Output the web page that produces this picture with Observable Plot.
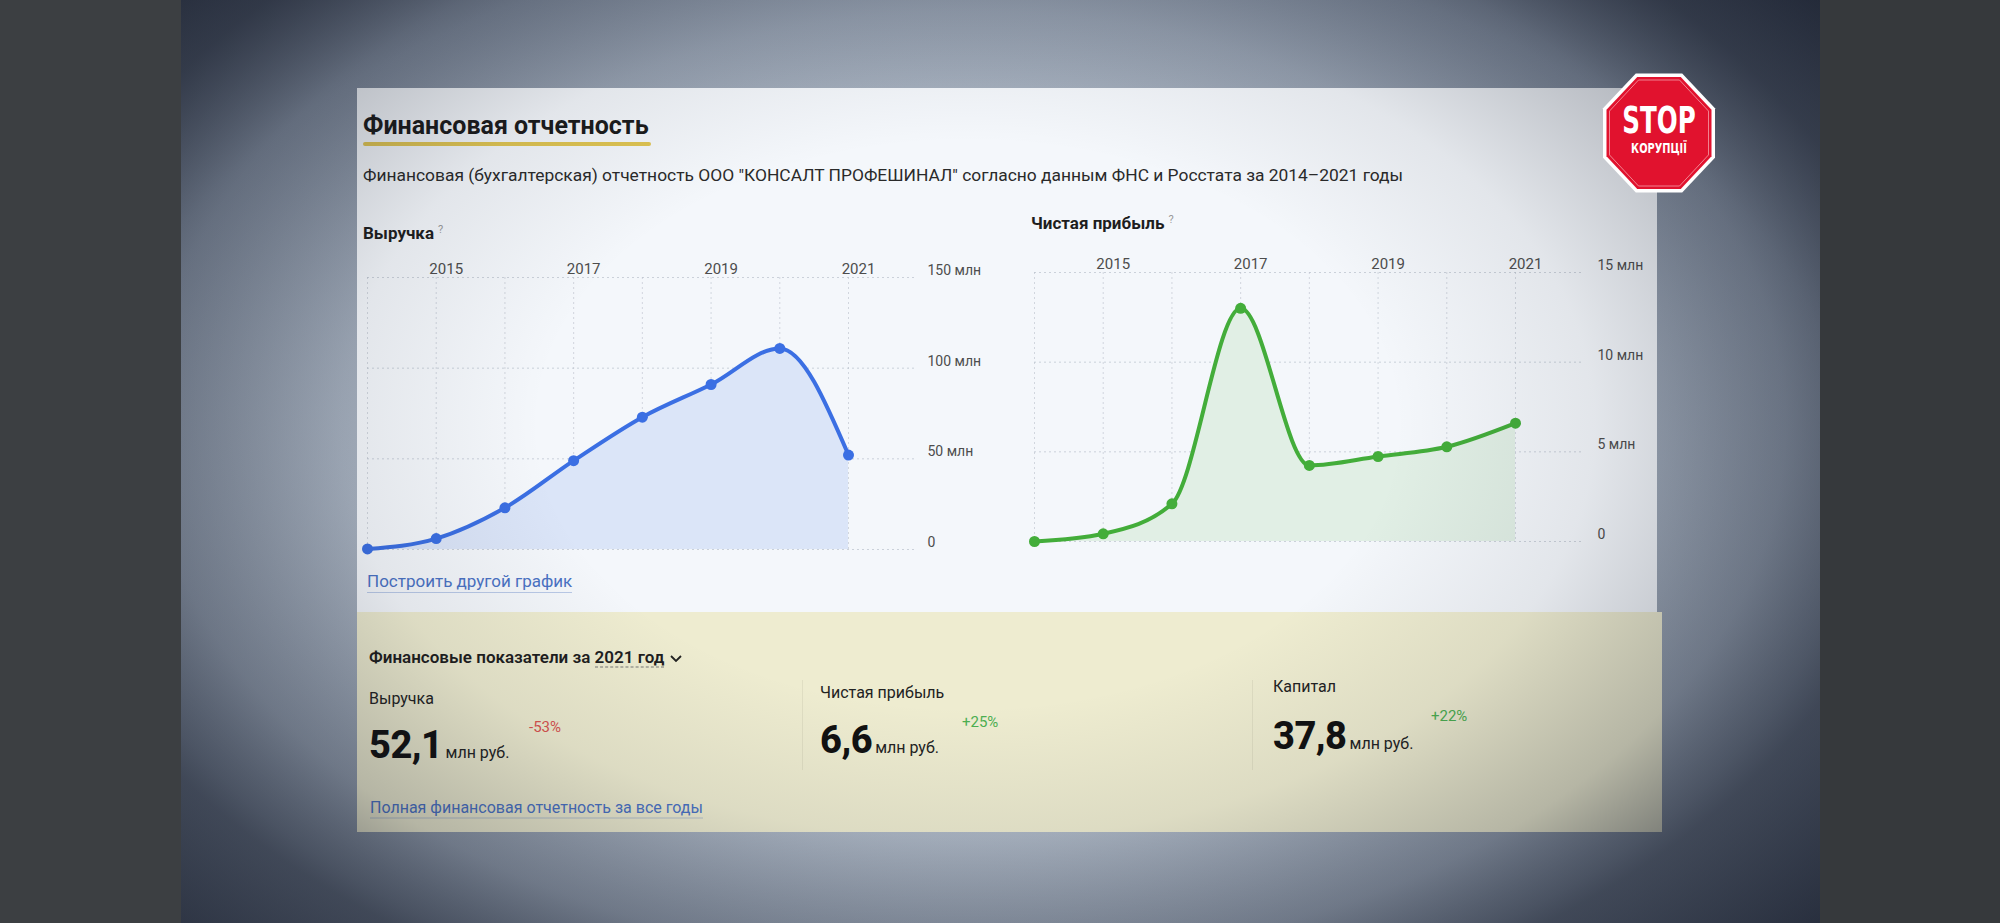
<!DOCTYPE html>
<html><head><meta charset="utf-8">
<script src="https://cdn.jsdelivr.net/npm/d3@7"></script>
<script src="https://cdn.jsdelivr.net/npm/@observablehq/plot@0.6"></script>
<style>
html,body{margin:0;padding:0;}
body{width:2000px;height:923px;overflow:hidden;position:relative;background:#3c3f42;font-family:Roboto,"Noto Sans",sans-serif;color:#222;}
#stripR{position:absolute;left:1820px;top:0;width:180px;height:923px;background:#36393c;}
#screen{position:absolute;left:181px;top:0;width:1639px;height:923px;
  background:radial-gradient(ellipse 72% 80% at 48% 52%, #cfd7e2 0%, #b3bdca 45%, #7e899a 75%, #2e3545 100%);}
#card{position:absolute;left:357px;top:88px;width:1300px;height:524px;background:#f4f7fb;}
#panel{position:absolute;left:357px;top:612px;width:1305px;height:220px;background:#eeecd0;}
.sep{position:absolute;top:680px;width:1px;height:90px;background:rgba(0,0,0,0.06);}
.t{position:absolute;white-space:nowrap;transform:translateY(-50%);line-height:1;}
#title{left:363px;top:125px;font-size:25px;font-weight:700;color:#1b1b1b;}
#uline{position:absolute;left:363px;top:142px;width:288px;height:4px;background:#e0c552;border-radius:2px;}
#sub{left:363px;top:176px;font-size:17.4px;color:#2a2a2a;}
.clabel{font-size:17px;font-weight:700;color:#1e1e1e;}
.q{font-size:11px;color:#999;vertical-align:super;font-weight:400;margin-left:4px;}
.link{font-size:17px;color:#4a72c4;border-bottom:1px solid rgba(74,114,196,0.35);padding-bottom:2px;}
.plabel{font-size:16px;color:#222;}
.big{font-size:38px;font-weight:800;color:#111;letter-spacing:-0.5px;}
.unit{font-size:16px;color:#222;font-weight:400;letter-spacing:0;margin-left:3px;}
.chg{font-size:15px;}
#chartL{position:absolute;left:357px;top:236px;}
#chartR{position:absolute;left:1020px;top:230px;}
#logo{position:absolute;left:1602px;top:73px;overflow:visible;}
#vig{position:absolute;left:181px;top:0;width:1639px;height:923px;pointer-events:none;
  background:radial-gradient(ellipse 58% 68% at 48% 46%, rgba(20,26,40,0) 0%, rgba(20,26,40,0) 45%, rgba(20,26,40,0.08) 66%, rgba(20,26,40,0.26) 86%, rgba(20,26,40,0.55) 100%);}
</style>
</head>
<body>
<div id="stripR"></div>
<div id="screen"></div>
<div id="card"></div>
<div id="panel"></div>
<div class="sep" style="left:802px"></div>
<div class="sep" style="left:1252px"></div>

<div id="title" class="t">Финансовая отчетность</div>
<div id="uline"></div>
<div id="sub" class="t">Финансовая (бухгалтерская) отчетность ООО "КОНСАЛТ ПРОФЕШИНАЛ" согласно данным ФНС и Росстата за 2014–2021 годы</div>

<div class="t clabel" id="labL" style="left:363px;top:233px;"></div>
<div class="t clabel" id="labR" style="left:1031px;top:223px;"></div>
<div id="chartL"></div>
<div id="chartR"></div>
<div class="t link" style="left:367px;top:583px;">Построить другой график</div>

<div class="t" id="panelTitle" style="left:369px;top:657px;font-size:17px;font-weight:600;color:#1e1e1e;"></div>
<div id="summary"></div>
<div class="t link" style="left:370px;top:809px;font-size:16px;">Полная финансовая отчетность за все годы</div>

<div id="vig"></div>
<svg id="logo" width="114" height="120" viewBox="0 0 114 120"></svg>

<script>
// ---- data ----
const years = [2014, 2015, 2016, 2017, 2018, 2019, 2020, 2021];
const revenue = [0.3, 6, 23, 49, 73, 91, 110.9, 52.1];      // млн руб.
const profit  = [0, 0.43, 2.1, 13.0, 4.24, 4.74, 5.28, 6.6]; // млн руб.
const yearTicks = [2015, 2017, 2019, 2021];
const revenueTicks = [0, 50, 100, 150];
const profitTicks = [0, 5, 10, 15];
const chartTitles = ["Выручка", "Чистая прибыль"];
const summaryYear = 2021;
const summaryLabels = ["Выручка", "Чистая прибыль", "Капитал"];
const summaryValues = ["52,1", "6,6", "37,8"];
const summaryChanges = ["-53%", "+25%", "+22%"];

// ---- texts ----
document.getElementById("labL").innerHTML = chartTitles[0] + '<span class="q">?</span>';
document.getElementById("labR").innerHTML = chartTitles[1] + '<span class="q">?</span>';
document.getElementById("panelTitle").innerHTML =
  'Финансовые показатели за <span style="border-bottom:1px dashed #777;">' + summaryYear + ' год</span>' +
  '<svg width="12" height="8" style="margin-left:6px;vertical-align:middle"><polyline points="1,1.5 6,6.5 11,1.5" fill="none" stroke="#222" stroke-width="1.8"/></svg>';

const colX = [369, 820, 1273];
const labY = [699, 693, 687];
const valY = [745, 740, 736];
const chgX = [529, 962, 1431];
const chgY = [727, 722, 716];
const sum = document.getElementById("summary");
summaryLabels.forEach((l, i) => {
  const a = document.createElement("div");
  a.className = "t plabel"; a.style.left = colX[i] + "px"; a.style.top = labY[i] + "px"; a.textContent = l;
  const b = document.createElement("div");
  b.className = "t big"; b.style.left = colX[i] + "px"; b.style.top = valY[i] + "px";
  b.innerHTML = summaryValues[i] + '<span class="unit">млн руб.</span>';
  const c = document.createElement("div");
  c.className = "t chg"; c.style.left = chgX[i] + "px"; c.style.top = chgY[i] + "px";
  c.style.color = summaryChanges[i].startsWith("-") ? "#d9534f" : "#4caf50";
  c.textContent = summaryChanges[i];
  sum.append(a, b, c);
});

// ---- charts ----
function chart({values, color, fill, yDomain, yTicks, marginLeft, marginRight, marginTop, marginBottom, labelPad}) {
  const data = years.map((y, i) => ({year: y, value: values[i]}));
  const W = 640, H = 330;
  return Plot.plot({
    width: W, height: H, marginLeft, marginRight, marginTop, marginBottom,
    style: {background: "transparent", fontFamily: "Roboto, 'Noto Sans', sans-serif", fontSize: "15px", color: "#4d4d4d", overflow: "visible"},
    x: {domain: [2014, 2021], range: [marginLeft, marginLeft + 481], axis: null},
    y: {domain: yDomain, axis: null},
    marks: [
      Plot.gridX(years, {stroke: "#b9c0cc", strokeOpacity: 0.6, strokeDasharray: "2,3"}),
      Plot.gridY(yTicks, {stroke: "#b9c0cc", strokeOpacity: 0.7, strokeDasharray: "2,3"}),
      Plot.areaY(data, {x: "year", y: "value", fill, curve: "monotone-x"}),
      Plot.lineY(data, {x: "year", y: "value", stroke: color, strokeWidth: 4, curve: "monotone-x"}),
      Plot.dot(data, {x: "year", y: "value", r: 5.5, fill: color}),
      Plot.axisX(yearTicks, {anchor: "top", label: null, tickSize: 0, tickPadding: 4, dx: 10, tickFormat: d => String(d), fontSize: 15}),
      Plot.axisY(yTicks, {anchor: "right", label: null, tickSize: 0, tickPadding: labelPad, dy: -7, textAnchor: "start", fontSize: 14,
        tickFormat: d => d === 0 ? "0" : d + " млн"})
    ]
  });
}

document.getElementById("chartL").append(chart({
  values: revenue, color: "#3b6fe3", fill: "#dbe5f8", yDomain: [0, 150], yTicks: revenueTicks,
  marginLeft: 10, marginRight: 81, marginTop: 41, marginBottom: 17, labelPad: 11
}));
document.getElementById("chartR").append(chart({
  values: profit, color: "#43ad3a", fill: "#e1efe5", yDomain: [0, 15], yTicks: profitTicks,
  marginLeft: 14, marginRight: 78, marginTop: 42, marginBottom: 19, labelPad: 15
}));

// ---- STOP logo (decoration) ----
(function () {
  const svg = document.getElementById("logo");
  const cx = 57, cy = 60;
  function oct(rx, ry) {
    const pts = [];
    for (let k = 0; k < 8; k++) {
      const a = (22.5 + 45 * k) * Math.PI / 180;
      pts.push((cx + rx * Math.cos(a)).toFixed(2) + "," + (cy + ry * Math.sin(a)).toFixed(2));
    }
    return pts.join(" ");
  }
  const c22 = Math.cos(22.5 * Math.PI / 180);
  const ff = "font-family=\"'DejaVu Sans Condensed','Liberation Sans Narrow','DejaVu Sans',sans-serif\" font-weight=\"700\" fill=\"#fff\" text-anchor=\"middle\"";
  svg.innerHTML =
    '<polygon points="' + oct(56 / c22, 59.5 / c22) + '" fill="#ffffff"/>' +
    '<polygon points="' + oct(52.5 / c22, 56 / c22) + '" fill="#e1122e"/>' +
    '<polygon points="' + oct(49.5 / c22, 53 / c22) + '" fill="none" stroke="#f5a0aa" stroke-width="0.8"/>' +
    '<g transform="translate(' + cx + ',60) scale(0.72,1)"><text x="0" y="0" ' + ff + ' font-size="38">STOP</text></g>' +
    '<g transform="translate(' + cx + ',80) scale(0.78,1)"><text x="0" y="0" ' + ff + ' font-size="14">КОРУПЦІЇ</text></g>';
})();
</script>
</body></html>
